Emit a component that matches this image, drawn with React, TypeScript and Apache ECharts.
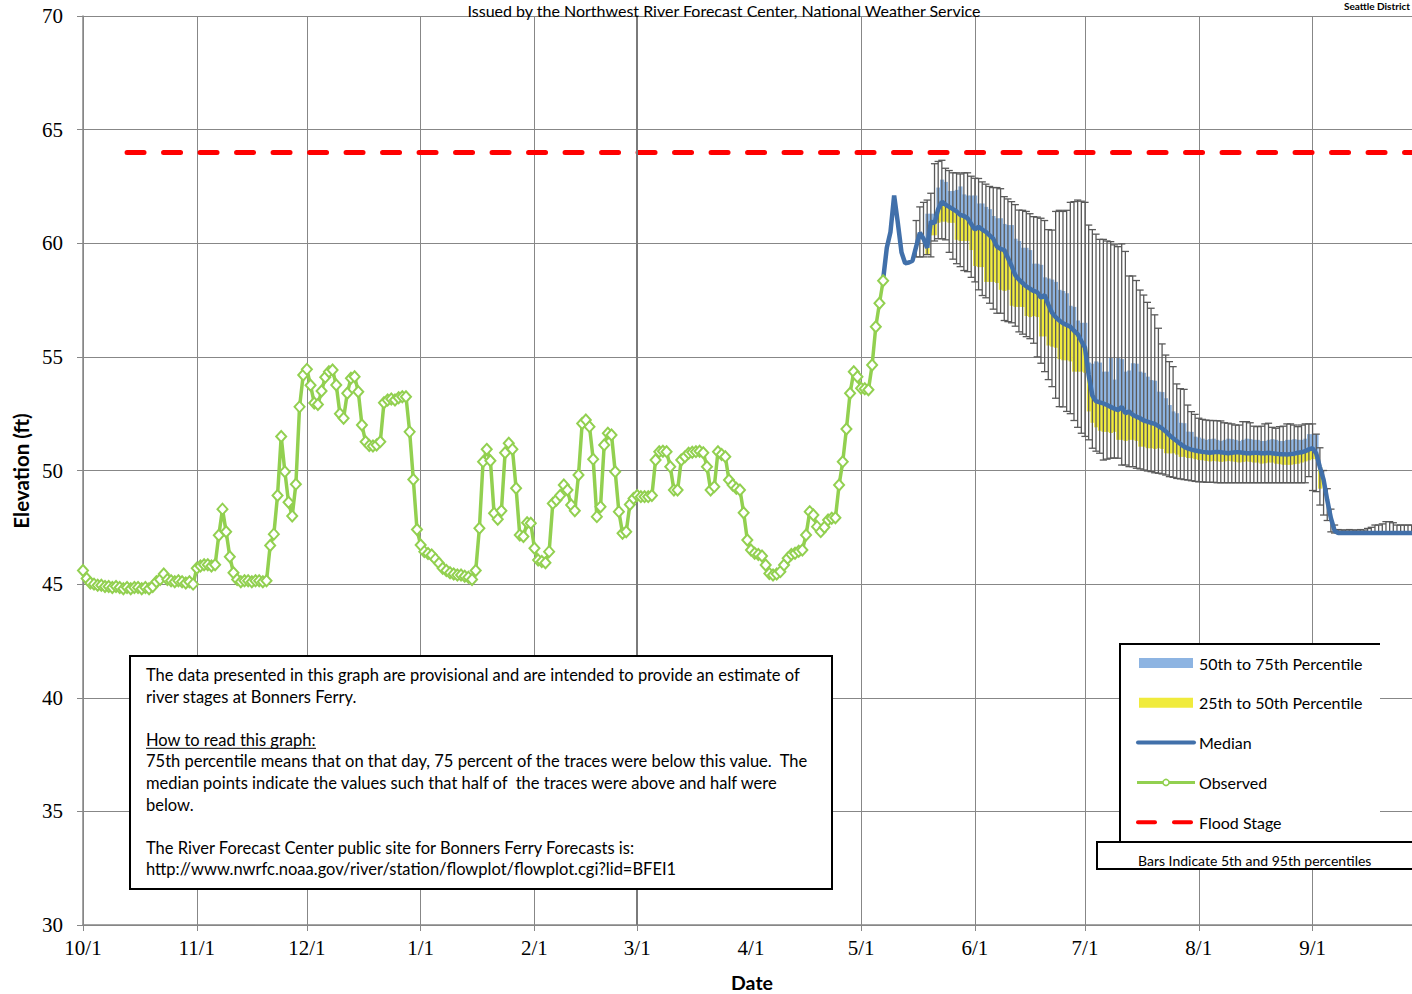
import React, { useEffect, useRef } from 'react';
import * as echarts from 'echarts';

// ---------- axis definitions ----------
const MONTHS = [10, 11, 12, 1, 2, 3, 4, 5, 6, 7, 8, 9];
const MONTH_DAYS = [31, 30, 31, 31, 28, 31, 30, 31, 30, 31, 31, 30];
const TICK_LABELS = ['10/1', '11/1', '12/1', '1/1', '2/1', '3/1', '4/1', '5/1', '6/1', '7/1', '8/1', '9/1'];
const NO_GRID_LABELS = ['4/1'];
const DARK_GRID_LABEL = '3/1';
const Y_MIN = 30;
const Y_MAX = 70;
const Y_STEP = 5;
const FLOOD_STAGE = 64;
const FLOOD_FROM = '10/13';
const FLOOD_TO = '9/30';

// ---------- data ----------
// Observed daily stage, starting 10/1
const OBSERVED_START = '10/1';
const OBSERVED = [
  45.6, 45.25, 45.05, 45.0, 44.95, 44.95, 44.9, 44.9, 44.85, 44.9,
  44.85, 44.8, 44.85, 44.8, 44.85, 44.85, 44.8, 44.85, 44.8, 44.9,
  45.1, 45.2, 45.45, 45.2, 45.15, 45.1, 45.15, 45.1, 45.05, 45.1,
  45.0, 45.7, 45.8, 45.85, 45.85, 45.8, 45.85, 47.15, 48.3, 47.3,
  46.2, 45.5, 45.2, 45.1, 45.15, 45.15, 45.1, 45.15, 45.15, 45.1,
  45.15, 46.7, 47.2, 48.9, 51.5, 49.95, 48.6, 48.0, 49.4, 52.8,
  54.2, 54.45, 53.75, 52.97, 52.9, 53.5, 54.1, 54.35, 54.42, 53.76,
  52.5, 52.3, 53.4, 54.06, 54.13, 53.47, 52.0, 51.27, 51.1, 51.08,
  51.12, 51.27, 52.98, 53.1, 53.15, 53.1, 53.2, 53.25, 53.25, 51.7,
  49.6, 47.4, 46.72, 46.43, 46.35, 46.28, 46.1, 45.92, 45.7, 45.6,
  45.5, 45.45, 45.4, 45.4, 45.35, 45.3, 45.2, 45.6, 47.46, 50.39,
  50.93, 50.43, 48.12, 47.85, 48.23, 50.78, 51.2, 50.93, 49.22, 47.16,
  47.1, 47.7, 47.68, 46.58, 46.06, 46.0, 45.94, 46.43, 48.55, 48.7,
  48.9, 49.36, 49.14, 48.48, 48.23, 49.8, 52.07, 52.22, 51.93, 50.5,
  47.97, 48.4, 51.12, 51.64, 51.56, 49.95, 48.19, 47.24, 47.3, 48.5,
  48.77, 48.9, 48.85, 48.85, 48.85, 48.9, 50.46, 50.83, 50.85, 50.83,
  50.17, 49.14, 49.14, 50.46, 50.6, 50.76, 50.8, 50.83, 50.85, 50.78,
  50.17, 49.14, 49.29, 50.83, 50.7, 50.61, 49.58, 49.36, 49.22, 49.14,
  48.14, 46.94, 46.5, 46.36, 46.3, 46.24, 45.84, 45.47, 45.4, 45.45,
  45.55, 45.84, 46.14, 46.3, 46.36, 46.45, 46.5, 47.16, 48.19, 48.04,
  47.53, 47.31, 47.5, 47.82, 47.9, 47.92, 49.36, 50.39, 51.83, 53.4,
  54.35, 54.13, 53.62, 53.6, 53.55, 54.64, 56.33, 57.36, 58.35,
];

// Forecast median, starting 5/7
const MEDIAN_START = '5/7';
const MEDIAN = [
  58.4, 59.8, 60.5, 62.1, 60.9, 59.6, 59.12, 59.15, 59.23, 59.85,
  60.46, 60.2, 59.8, 60.95, 60.88, 61.5, 61.83, 61.7, 61.6, 61.5,
  61.4, 61.25, 61.2, 61.1, 60.85, 60.6, 60.73, 60.6, 60.5, 60.35,
  60.2, 59.85, 59.75, 59.7, 59.35, 59.0, 58.6, 58.4, 58.25, 58.1,
  58.0, 57.9, 57.85, 57.6, 57.72, 57.3, 56.95, 56.75, 56.6, 56.48,
  56.4, 56.33, 56.15, 56.0, 55.7, 55.4, 54.2, 53.3, 53.05, 53.0,
  52.95, 52.88, 52.8, 52.72, 52.66, 52.8, 52.52, 52.6, 52.45, 52.37,
  52.3, 52.2, 52.15, 52.1, 52.05, 51.95, 51.85, 51.72, 51.55, 51.42,
  51.3, 51.17, 51.05, 50.97, 50.92, 50.88, 50.85, 50.82, 50.8, 50.78,
  50.8, 50.82, 50.8, 50.78, 50.76, 50.78, 50.8, 50.8, 50.78, 50.76,
  50.76, 50.78, 50.78, 50.76, 50.76, 50.78, 50.76, 50.74, 50.72, 50.72,
  50.7, 50.72, 50.74, 50.78, 50.8, 50.85, 50.93, 50.98, 50.75, 50.15,
  49.6, 48.7, 47.9, 47.35, 47.25, 47.25, 47.25, 47.25, 47.25, 47.25,
  47.25, 47.25, 47.25, 47.25, 47.25, 47.25, 47.25, 47.25, 47.25, 47.25,
  47.25, 47.25, 47.25, 47.25, 47.25, 47.25, 47.25,
];

// Percentile bands, starting 5/19
const BAND_START = '5/19';
const P75 = [
  61.3, 61.3, 61.3, 62.45, 62.8, 62.7, 62.3, 62.3, 62.35, 62.5,
  62.15, 62.1, 62.1, 62.1, 61.75, 61.75, 61.6, 61.5, 61.2, 61.1,
  61.1, 60.85, 60.8, 60.8, 60.2, 60.1, 59.8, 59.8, 59.7, 59.1,
  59.1, 59.05, 58.5, 58.45, 58.4, 58.3, 57.95, 57.9, 57.8, 57.25,
  57.2, 56.6, 56.5, 56.5, 54.75, 54.7, 54.8, 54.75, 54.35, 54.35,
  54.95, 54.0, 54.95, 54.9, 54.35, 54.4, 54.72, 54.7, 54.35, 54.3,
  54.13, 53.98, 53.95, 53.47, 53.45, 53.18, 52.88, 52.6, 52.52, 52.1,
  52.08, 51.71, 51.7, 51.49, 51.45, 51.4, 51.35, 51.38, 51.4, 51.35,
  51.3, 51.35, 51.4, 51.38, 51.35, 51.3, 51.35, 51.4, 51.38, 51.35,
  51.35, 51.3, 51.3, 51.35, 51.38, 51.35, 51.3, 51.3, 51.35, 51.35,
  51.38, 51.35, 51.35, 51.4, 51.6, 51.6, 51.6, 50.15,
];
const P25 = [
  59.5, 60.35, 60.35, 60.9, 60.95, 60.95, 60.9, 60.9, 60.15, 60.1,
  60.1, 60.1, 59.7, 59.0, 58.95, 58.95, 58.3, 58.3, 58.3, 58.25,
  57.95, 57.9, 57.95, 57.25, 57.2, 57.2, 57.2, 56.8, 56.75, 56.8,
  56.75, 55.9, 55.9, 55.5, 55.45, 55.4, 54.9, 54.85, 54.85, 54.8,
  54.35, 54.35, 54.35, 54.3, 52.6, 52.1, 51.9, 51.75, 51.7, 51.7,
  51.65, 51.7, 51.35, 51.35, 51.3, 51.35, 51.35, 51.3, 51.05, 51.05,
  50.98, 50.98, 50.95, 50.98, 50.95, 50.76, 50.75, 50.76, 50.7, 50.6,
  50.6, 50.55, 50.54, 50.5, 50.46, 50.45, 50.42, 50.4, 50.42, 50.4,
  50.38, 50.4, 50.42, 50.4, 50.38, 50.35, 50.38, 50.4, 50.38, 50.35,
  50.35, 50.3, 50.32, 50.35, 50.35, 50.3, 50.28, 50.25, 50.25, 50.25,
  50.28, 50.3, 50.35, 50.4, 50.45, 50.5, 50.5, 49.2,
];

// 5th / 95th percentile bars, starting 5/16
const BARS_START = '5/16';
const P95 = [
  61.0, 61.6, 61.8, 61.9, 62.2, 63.5, 63.6, 63.65, 63.3, 63.2,
  63.1, 63.1, 63.05, 63.1, 63.1, 62.95, 62.86, 62.85, 62.7, 62.6,
  62.5, 62.45, 62.45, 62.4, 62.05, 61.95, 61.83, 61.7, 61.46, 61.45,
  61.4, 61.3, 61.17, 61.15, 61.1, 61.0, 60.6, 60.58, 61.4, 61.45,
  61.4, 61.45, 61.8, 61.83, 61.9, 61.85, 61.8, 60.8, 60.6, 60.4,
  60.17, 60.17, 60.1, 60.07, 59.93, 59.85, 59.97, 59.64, 58.56, 58.56,
  58.36, 57.94, 57.72, 57.4, 57.14, 56.85, 56.26, 55.57, 55.08, 54.79,
  54.57, 53.81, 53.6, 53.57, 52.88, 52.59, 52.47, 52.3, 52.25, 52.22,
  52.2, 52.2, 52.19, 52.18, 52.1, 52.08, 52.05, 52.0, 52.0, 52.15,
  52.15, 52.1, 51.95, 51.93, 51.95, 52.05, 52.08, 51.9, 51.86, 51.93,
  51.95, 52.05, 52.05, 52.0, 51.93, 52.0, 52.05, 52.05, 52.05, 51.6,
  51.0, 50.0, 49.2, 48.3, 47.6, 47.4, 47.38, 47.38, 47.4, 47.38,
  47.38, 47.4, 47.38, 47.45, 47.5, 47.6, 47.6, 47.65, 47.75, 47.75,
  47.7, 47.6, 47.6, 47.6, 47.6, 47.6, 47.55, 47.55,
];
const P05 = [
  59.4, 59.4, 59.4, 59.5, 59.4, 60.1, 60.2, 60.2, 60.15, 59.6,
  59.3, 59.1, 58.97, 58.8, 58.75, 58.5, 58.3, 57.95, 57.7, 57.6,
  57.36, 57.1, 56.92, 56.92, 56.6, 56.55, 56.5, 56.35, 56.1, 56.0,
  55.89, 55.8, 55.6, 55.0, 54.72, 54.35, 54.0, 53.69, 53.18, 52.81,
  52.8, 52.6, 52.5, 52.2, 51.9, 51.64, 51.5, 51.35, 50.98, 50.85,
  50.76, 50.46, 50.5, 50.54, 50.55, 50.54, 50.24, 50.24, 50.17, 50.17,
  50.1, 50.07, 50.02, 49.98, 49.95, 49.9, 49.88, 49.85, 49.8, 49.73,
  49.7, 49.65, 49.63, 49.6, 49.58, 49.55, 49.52, 49.5, 49.5, 49.48,
  49.48, 49.48, 49.46, 49.46, 49.46, 49.46, 49.46, 49.46, 49.46, 49.46,
  49.46, 49.46, 49.46, 49.46, 49.46, 49.46, 49.46, 49.46, 49.46, 49.46,
  49.46, 49.46, 49.46, 49.46, 49.46, 49.46, 49.46, 49.73, 49.12, 49.07,
  48.48, 48.04, 47.8, 47.3, 47.25, 47.25, 47.25, 47.25, 47.25, 47.25,
  47.25, 47.25, 47.25, 47.25, 47.25, 47.25, 47.25, 47.25, 47.25, 47.25,
  47.25, 47.25, 47.25, 47.25, 47.25, 47.25, 47.25, 47.25,
];

// ---------- texts ----------
const TITLE = 'Issued by the Northwest River Forecast Center, National Weather Service';
const CORNER_TEXT = 'Seattle District';
const Y_NAME = 'Elevation (ft)';
const X_NAME = 'Date';
const LEGEND_LABELS = ['50th to 75th Percentile', '25th to 50th Percentile', 'Median', 'Observed', 'Flood Stage'];
const BARS_NOTE = 'Bars Indicate 5th and 95th percentiles';
const NOTE_LINES = [
  'The data presented in this graph are provisional and are intended to provide an estimate of',
  'river stages at Bonners Ferry.',
  '',
  'How to read this graph:',
  '75th percentile means that on that day, 75 percent of the traces were below this value.  The',
  'median points indicate the values such that half of  the traces were above and half were',
  'below.',
  '',
  'The River Forecast Center public site for Bonners Ferry Forecasts is:',
  'http://www.nwrfc.noaa.gov/river/station/flowplot/flowplot.cgi?lid=BFEI1',
];
const UNDERLINED_LINE = 3;

// ---------- styles ----------
const C_BLUE_BAND = '#8DB4E2';
const C_YELLOW = '#F0EB3C';
const C_MEDIAN = '#4170AA';
const C_OBS = '#92D050';
const C_BARS = '#595959';
const C_FLOOD = '#FF0000';
const C_GRID = '#878787';
const SERIF = '"Liberation Serif", "Times New Roman", serif';
const SANS = 'Lato, "Open Sans", sans-serif';

function buildDays(): string[] {
  const out: string[] = [];
  MONTHS.forEach((m, k) => {
    for (let d = 1; d <= MONTH_DAYS[k]; d++) out.push(`${m}/${d}`);
  });
  return out;
}

export default function App() {
  const ref = useRef<HTMLDivElement>(null);

  useEffect(() => {
    if (!ref.current) return;
    const chart = echarts.init(ref.current, undefined, { renderer: 'svg' });

    const DAYS = buildDays();
    const idx = (l: string) => DAYS.indexOf(l);
    const tickSet = new Set(TICK_LABELS);
    const gridSet = new Set(TICK_LABELS.filter((t) => !NO_GRID_LABELS.includes(t)));

    const obsStart = idx(OBSERVED_START);
    const medStart = idx(MEDIAN_START);
    const bandStart = idx(BAND_START);
    const barsStart = idx(BARS_START);

    const obsData = new Array(obsStart).fill(null).concat(OBSERVED);
    const medData = new Array(medStart).fill(null).concat(MEDIAN);
    const medAt = (i: number) => MEDIAN[i - medStart];

    const blueData = P75.map((v, k) => [bandStart + k, medAt(bandStart + k), v]);
    const yellowData = P25.map((v, k) => [bandStart + k, v, medAt(bandStart + k)]);
    const barsData = P95.map((v, k) => [barsStart + k, P05[k], v]);

    const bandRender = (color: string) => (params: any, api: any) => {
      const i = api.value(0);
      const lo = api.value(1);
      const hi = api.value(2);
      if (!(hi > lo)) return { type: 'group', children: [] };
      const pLo = api.coord([i, lo]);
      const pHi = api.coord([i, hi]);
      const w = api.size([1, 0])[0];
      return {
        type: 'rect',
        shape: { x: pLo[0] - w / 2, y: pHi[1], width: w + 0.5, height: pLo[1] - pHi[1] },
        style: { fill: color },
      };
    };

    const barsRender = (params: any, api: any) => {
      const i = api.value(0);
      const pLo = api.coord([i, api.value(1)]);
      const pHi = api.coord([i, api.value(2)]);
      const cap = 3.6;
      const st = { stroke: C_BARS, lineWidth: 1.3 };
      return {
        type: 'group',
        children: [
          { type: 'line', shape: { x1: pLo[0], y1: pLo[1], x2: pHi[0], y2: pHi[1] }, style: st },
          { type: 'line', shape: { x1: pHi[0] - cap, y1: pHi[1], x2: pHi[0] + cap, y2: pHi[1] }, style: st },
          { type: 'line', shape: { x1: pLo[0] - cap, y1: pLo[1], x2: pLo[0] + cap, y2: pLo[1] }, style: st },
        ],
      };
    };

    // ----- graphic: notes box, legend, titles -----
    const graphics: any[] = [];
    graphics.push({
      type: 'text', x: 724, y: 10, z: 100,
      style: { text: TITLE, fontSize: 16, fontFamily: SANS, fill: '#000', align: 'center', verticalAlign: 'middle' },
    });
    graphics.push({
      type: 'text', x: 1410, y: 6, z: 100,
      style: { text: CORNER_TEXT, fontSize: 10, fontWeight: 'bold', fontFamily: SANS, fill: '#000', align: 'right', verticalAlign: 'middle' },
    });
    graphics.push({
      type: 'text', x: 21, y: 471, rotation: Math.PI / 2, z: 100,
      style: { text: Y_NAME, fontSize: 20.5, fontWeight: 'bold', fontFamily: SANS, fill: '#000', align: 'center', verticalAlign: 'middle' },
    });
    graphics.push({
      type: 'text', x: 752, y: 982, z: 100,
      style: { text: X_NAME, fontSize: 19.5, fontWeight: 'bold', fontFamily: SANS, fill: '#000', align: 'center', verticalAlign: 'middle' },
    });

    // notes box
    graphics.push({
      type: 'rect', z: 100,
      shape: { x: 130, y: 656, width: 702, height: 233 },
      style: { fill: '#fff', stroke: '#000', lineWidth: 2 },
    });
    NOTE_LINES.forEach((t, k) => {
      if (!t) return;
      const y = 675 + k * 21.6;
      graphics.push({
        type: 'text', x: 146, y, z: 101,
        style: { text: t, fontSize: 16.5, fontFamily: SANS, fill: '#000', align: 'left', verticalAlign: 'middle' },
      });
      if (k === UNDERLINED_LINE) {
        graphics.push({
          type: 'line', z: 101,
          shape: { x1: 146, y1: y + 8.5, x2: 316, y2: y + 8.5 },
          style: { stroke: '#000', lineWidth: 1 },
        });
      }
    });

    // legend box
    graphics.push({
      type: 'rect', z: 100,
      shape: { x: 1120, y: 644, width: 260, height: 198 },
      style: { fill: '#fff', stroke: null },
    });
    graphics.push({ type: 'line', z: 101, shape: { x1: 1119, y1: 644, x2: 1380, y2: 644 }, style: { stroke: '#000', lineWidth: 2 } });
    graphics.push({ type: 'line', z: 101, shape: { x1: 1120, y1: 644, x2: 1120, y2: 842 }, style: { stroke: '#000', lineWidth: 2 } });
    graphics.push({
      type: 'rect', z: 100,
      shape: { x: 1097, y: 842, width: 340, height: 27 },
      style: { fill: '#fff', stroke: '#000', lineWidth: 2 },
    });
    graphics.push({
      type: 'text', x: 1138, y: 860, z: 101,
      style: { text: BARS_NOTE, fontSize: 14, fontFamily: SANS, fill: '#000', align: 'left', verticalAlign: 'middle' },
    });
    LEGEND_LABELS.forEach((t, k) => {
      const y = 663 + k * 39.8;
      graphics.push({
        type: 'text', x: 1199, y, z: 101,
        style: { text: t, fontSize: 16, fontFamily: SANS, fill: '#000', align: 'left', verticalAlign: 'middle' },
      });
      if (k === 0 || k === 1) {
        graphics.push({
          type: 'rect', z: 101,
          shape: { x: 1139, y: y - 5, width: 54, height: 10 },
          style: { fill: k === 0 ? C_BLUE_BAND : C_YELLOW },
        });
      } else if (k === 2) {
        graphics.push({ type: 'line', z: 101, shape: { x1: 1138, y1: y, x2: 1194, y2: y }, style: { stroke: C_MEDIAN, lineWidth: 4, lineCap: 'round' } });
      } else if (k === 3) {
        graphics.push({ type: 'line', z: 101, shape: { x1: 1137, y1: y, x2: 1195, y2: y }, style: { stroke: C_OBS, lineWidth: 3 } });
        graphics.push({ type: 'circle', z: 102, shape: { cx: 1166, cy: y, r: 3 }, style: { fill: '#fff', stroke: C_OBS, lineWidth: 1.5 } });
      } else {
        graphics.push({ type: 'line', z: 101, shape: { x1: 1138, y1: y, x2: 1155, y2: y }, style: { stroke: C_FLOOD, lineWidth: 4, lineCap: 'round' } });
        graphics.push({ type: 'line', z: 101, shape: { x1: 1174, y1: y, x2: 1191, y2: y }, style: { stroke: C_FLOOD, lineWidth: 4, lineCap: 'round' } });
      }
    });

    chart.setOption({
      animation: false,
      backgroundColor: '#fff',
      grid: { left: 83, top: 16, width: 1336, height: 909, containLabel: false },
      xAxis: {
        type: 'category',
        data: DAYS,
        boundaryGap: false,
        axisLine: { show: true, lineStyle: { color: C_GRID, width: 1.5 } },
        axisTick: {
          show: true, length: 6, inside: false,
          interval: (i: number, v: string) => gridSet.has(v),
          lineStyle: { color: C_GRID },
        },
        axisLabel: {
          show: true, margin: 12,
          interval: (i: number, v: string) => tickSet.has(v),
          fontFamily: SERIF, fontSize: 21, color: '#000',
        },
        splitLine: {
          show: true,
          interval: (i: number, v: string) => gridSet.has(v),
          lineStyle: { color: C_GRID, width: 1 },
        },
      },
      yAxis: {
        type: 'value',
        min: Y_MIN, max: Y_MAX, interval: Y_STEP,
        axisLine: { show: true, lineStyle: { color: C_GRID, width: 1.5 } },
        axisTick: { show: true, length: 6, lineStyle: { color: C_GRID } },
        axisLabel: { margin: 20, fontFamily: SERIF, fontSize: 21, color: '#000' },
        splitLine: { show: true, lineStyle: { color: C_GRID, width: 1 } },
      },
      graphic: { elements: graphics },
      series: [
        {
          type: 'custom', name: 'p50-75', data: blueData, encode: { x: 0, y: [1, 2] },
          renderItem: bandRender(C_BLUE_BAND), z: 2, silent: true,
        },
        {
          type: 'custom', name: 'p25-50', data: yellowData, encode: { x: 0, y: [1, 2] },
          renderItem: bandRender(C_YELLOW), z: 2, silent: true,
        },
        {
          type: 'custom', name: 'bars', data: barsData, encode: { x: 0, y: [1, 2] },
          renderItem: barsRender, z: 3, silent: true,
        },
        {
          type: 'line', name: 'Median', data: medData, showSymbol: false, symbol: 'none',
          lineStyle: { color: C_MEDIAN, width: 4.5 }, itemStyle: { color: C_MEDIAN }, z: 4, silent: true,
          markLine: {
            silent: true, symbol: 'none', label: { show: false },
            data: [
              [
                { coord: [FLOOD_FROM, FLOOD_STAGE], lineStyle: { color: C_FLOOD, width: 5, type: [17, 19.5], cap: 'round' } },
                { coord: [FLOOD_TO, FLOOD_STAGE] },
              ],
              { xAxis: DARK_GRID_LABEL, lineStyle: { color: '#7A7A7A', width: 2, type: 'solid' } },
            ],
          },
        },
        {
          type: 'line', name: 'Observed', data: obsData, symbol: 'diamond', symbolSize: [10, 11],
          showSymbol: true, showAllSymbol: true,
          lineStyle: { color: C_OBS, width: 3.5 },
          itemStyle: { color: '#fff', borderColor: C_OBS, borderWidth: 2 },
          z: 5, silent: true,
        },
      ],
    });

    return () => chart.dispose();
  }, []);

  return (
    <div style={{ position: 'absolute', left: 0, top: 0, width: 1412, height: 994, overflow: 'hidden', background: '#fff' }}>
      <div ref={ref} style={{ position: 'absolute', left: 0, top: 0, width: 1420, height: 994 }} />
    </div>
  );
}
